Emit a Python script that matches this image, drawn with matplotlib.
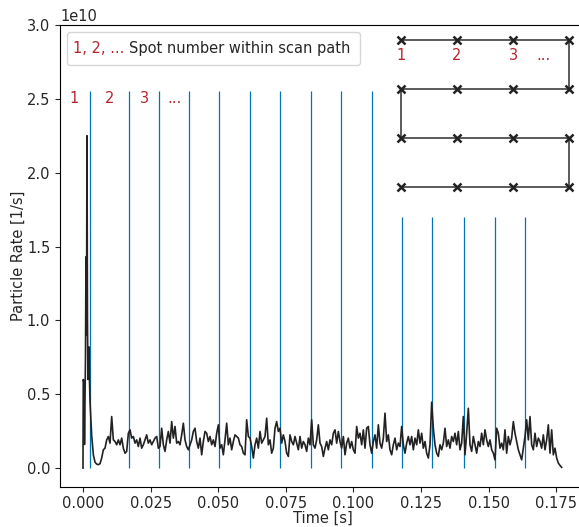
import numpy as np
import matplotlib
matplotlib.use("Agg")
import matplotlib.pyplot as plt
from matplotlib.offsetbox import AnchoredOffsetbox, HPacker, TextArea, DrawingArea

# --- data -----------------------------------------------------------------
# first beam burst, sampled finer (time in s, rate in 1e10 1/s)
burst_time = [0.0, 0.0001, 0.00037, 0.00055, 0.00074, 0.00092, 0.00111,
              0.00129, 0.00148, 0.00166, 0.00185, 0.00203, 0.00222, 0.0024]
burst_rate = [0.0, 0.60, 0.58, 0.16, 0.45, 0.74, 1.43,
              0.90, 2.25, 1.00, 0.60, 0.80, 0.82, 0.60]

# rest of the measurement, regular sampling between t_start and t_end
t_start, t_end = 0.0026, 0.1770
rate = [
    0.45, 0.22, 0.09, 0.04, 0.027, 0.023, 0.03, 0.068, 0.124, 0.135,
    0.191, 0.214, 0.169, 0.349, 0.191, 0.180, 0.158, 0.191, 0.158, 0.203,
    0.135, 0.101, 0.113, 0.236, 0.259, 0.203, 0.214, 0.169, 0.191, 0.146,
    0.203, 0.135, 0.158, 0.191, 0.225, 0.169, 0.191, 0.158, 0.180, 0.203,
    0.214, 0.135, 0.146, 0.270, 0.158, 0.113, 0.191, 0.248, 0.169, 0.315,
    0.203, 0.282, 0.169, 0.180, 0.158, 0.225, 0.304, 0.191, 0.146, 0.124,
    0.158, 0.191, 0.248, 0.270, 0.180, 0.135, 0.203, 0.090, 0.180, 0.248,
    0.236, 0.180, 0.214, 0.158, 0.191, 0.146, 0.236, 0.293, 0.135, 0.158,
    0.090, 0.191, 0.304, 0.158, 0.203, 0.124, 0.180, 0.225, 0.214, 0.203,
    0.158, 0.146, 0.101, 0.090,
    0.327, 0.214, 0.203, 0.146, 0.068, 0.158, 0.203, 0.135, 0.248, 0.169,
    0.191, 0.214, 0.338, 0.158, 0.191, 0.101, 0.135, 0.270, 0.315, 0.248,
    0.270, 0.169, 0.225, 0.180, 0.101, 0.079, 0.225, 0.180, 0.158, 0.214,
    0.169, 0.124, 0.214, 0.135, 0.180, 0.158, 0.113, 0.203, 0.158, 0.327,
    0.158, 0.135, 0.191, 0.293, 0.169, 0.146, 0.079, 0.135, 0.180, 0.124,
    0.191, 0.158, 0.236, 0.259, 0.169, 0.248, 0.180, 0.135, 0.214, 0.090,
    0.169, 0.203, 0.135, 0.180, 0.124, 0.101, 0.282, 0.203, 0.236, 0.158,
    0.259, 0.135, 0.270, 0.282, 0.158, 0.101, 0.180, 0.225, 0.135, 0.293,
    0.169, 0.135, 0.203, 0.372, 0.180, 0.225, 0.124, 0.090, 0.158, 0.203,
    0.124, 0.169, 0.146, 0.282, 0.158, 0.101, 0.169, 0.214, 0.158,
    0.214, 0.124, 0.203, 0.158, 0.259, 0.169, 0.236, 0.135, 0.180, 0.101,
    0.068, 0.158, 0.446, 0.270, 0.158, 0.101, 0.079, 0.158, 0.124, 0.169,
    0.270, 0.146, 0.191, 0.135, 0.214, 0.180, 0.236, 0.158, 0.248, 0.124,
    0.169, 0.349, 0.090, 0.236, 0.405, 0.158, 0.113, 0.214, 0.158, 0.101,
    0.180, 0.146, 0.236, 0.158, 0.259, 0.191, 0.146, 0.191, 0.124, 0.101,
    0.056, 0.270, 0.236, 0.135, 0.169, 0.124, 0.259, 0.101, 0.214, 0.158,
    0.203, 0.315, 0.236, 0.180, 0.124, 0.090, 0.056, 0.135, 0.214, 0.327,
    0.191, 0.349, 0.158, 0.124, 0.236, 0.146, 0.203, 0.180, 0.135, 0.225,
    0.124, 0.191, 0.293, 0.101, 0.259, 0.090, 0.135, 0.068, 0.034, 0.018,
    0.005,
]

# start times of the spots (s) and how high the marker lines go (1e10 1/s)
spot_times = [0.0027, 0.0171, 0.0282, 0.0393, 0.0504, 0.0619, 0.0730, 0.0844,
              0.0955, 0.1070, 0.1181, 0.1292, 0.1410, 0.1525, 0.1636]
spot_tops = [2.55] * 10 + [1.70] * 5

spot_labels = ["1", "2", "3", "..."]
spot_label_x = [-0.0033, 0.0099, 0.0227, 0.0338]

# serpentine scan path (column, row)
path_col = [0, 1, 2, 3, 3, 2, 1, 0, 0, 1, 2, 3, 3, 2, 1, 0]
path_row = [0, 0, 0, 0, 1, 1, 1, 1, 2, 2, 2, 2, 3, 3, 3, 3]

RED = "#b2262c"
BLUE = "#0173b2"
TXT = "#262626"

plt.rcParams["font.family"] = ["DejaVu Sans"]
plt.rcParams["font.size"] = 10.5
plt.rcParams["text.color"] = TXT
plt.rcParams["axes.labelcolor"] = TXT
plt.rcParams["xtick.color"] = TXT
plt.rcParams["ytick.color"] = TXT
plt.rcParams["xtick.major.pad"] = 3

fig = plt.figure(figsize=(5.79, 5.27), dpi=100)
ax = fig.add_axes([60 / 579, 40 / 527, 526 / 579, 462 / 527])

t = np.concatenate([burst_time, np.linspace(t_start, t_end, len(rate))])
r = np.concatenate([burst_rate, rate]) * 1e10

ax.vlines(spot_times, 0, np.array(spot_tops) * 1e10, color=BLUE, lw=0.9)
ax.plot(t, r, color="#222222", lw=1.2)

for lab, x in zip(spot_labels, spot_label_x):
    ax.text(x, 2.5e10, lab, color=RED, ha="center", va="center")

ax.set_xlim(-0.0085, 0.186)
ax.set_ylim(-0.128e10, 3.0e10)
ax.set_xticks([0.0, 0.025, 0.05, 0.075, 0.1, 0.125, 0.15, 0.175])
ax.set_xlabel("Time [s]", labelpad=0)
ax.set_ylabel("Particle Rate [1/s]", labelpad=1)
ax.spines["right"].set_visible(False)

# legend-like box
box = HPacker(children=[TextArea("1, 2, ...", textprops=dict(color=RED)),
                        TextArea("Spot number within scan path", textprops=dict(color=TXT)),
                        DrawingArea(0, 15)],
              sep=3, align="center")
anch = AnchoredOffsetbox(loc="upper left", child=box, pad=0.4, borderpad=0.5, frameon=True)
anch.patch.set_boxstyle("round,pad=0,rounding_size=0.2")
anch.patch.set_edgecolor("0.8")
anch.patch.set_alpha(0.8)
ax.add_artist(anch)

# scan path sketch
ins = fig.add_axes([380 / 579, (527 - 200) / 527, 210 / 579, 170 / 527])
ins.plot(path_col, [-v for v in path_row], color="0.3", lw=1.3, zorder=1)
ins.plot(path_col, [-v for v in path_row], ls="none", marker="x", ms=5.5,
         mew=1.8, color="#222222", zorder=2)
for i, lab in enumerate(spot_labels[:3]):
    ins.text(i, -0.31, lab, color=RED, ha="center", va="center")
ins.text(2.54, -0.31, "...", color=RED, ha="center", va="center")
ins.set_xlim(-0.375, 3.375)
ins.set_ylim(-3.265, 0.204)
ins.axis("off")

fig.savefig("out.png", dpi=100)
